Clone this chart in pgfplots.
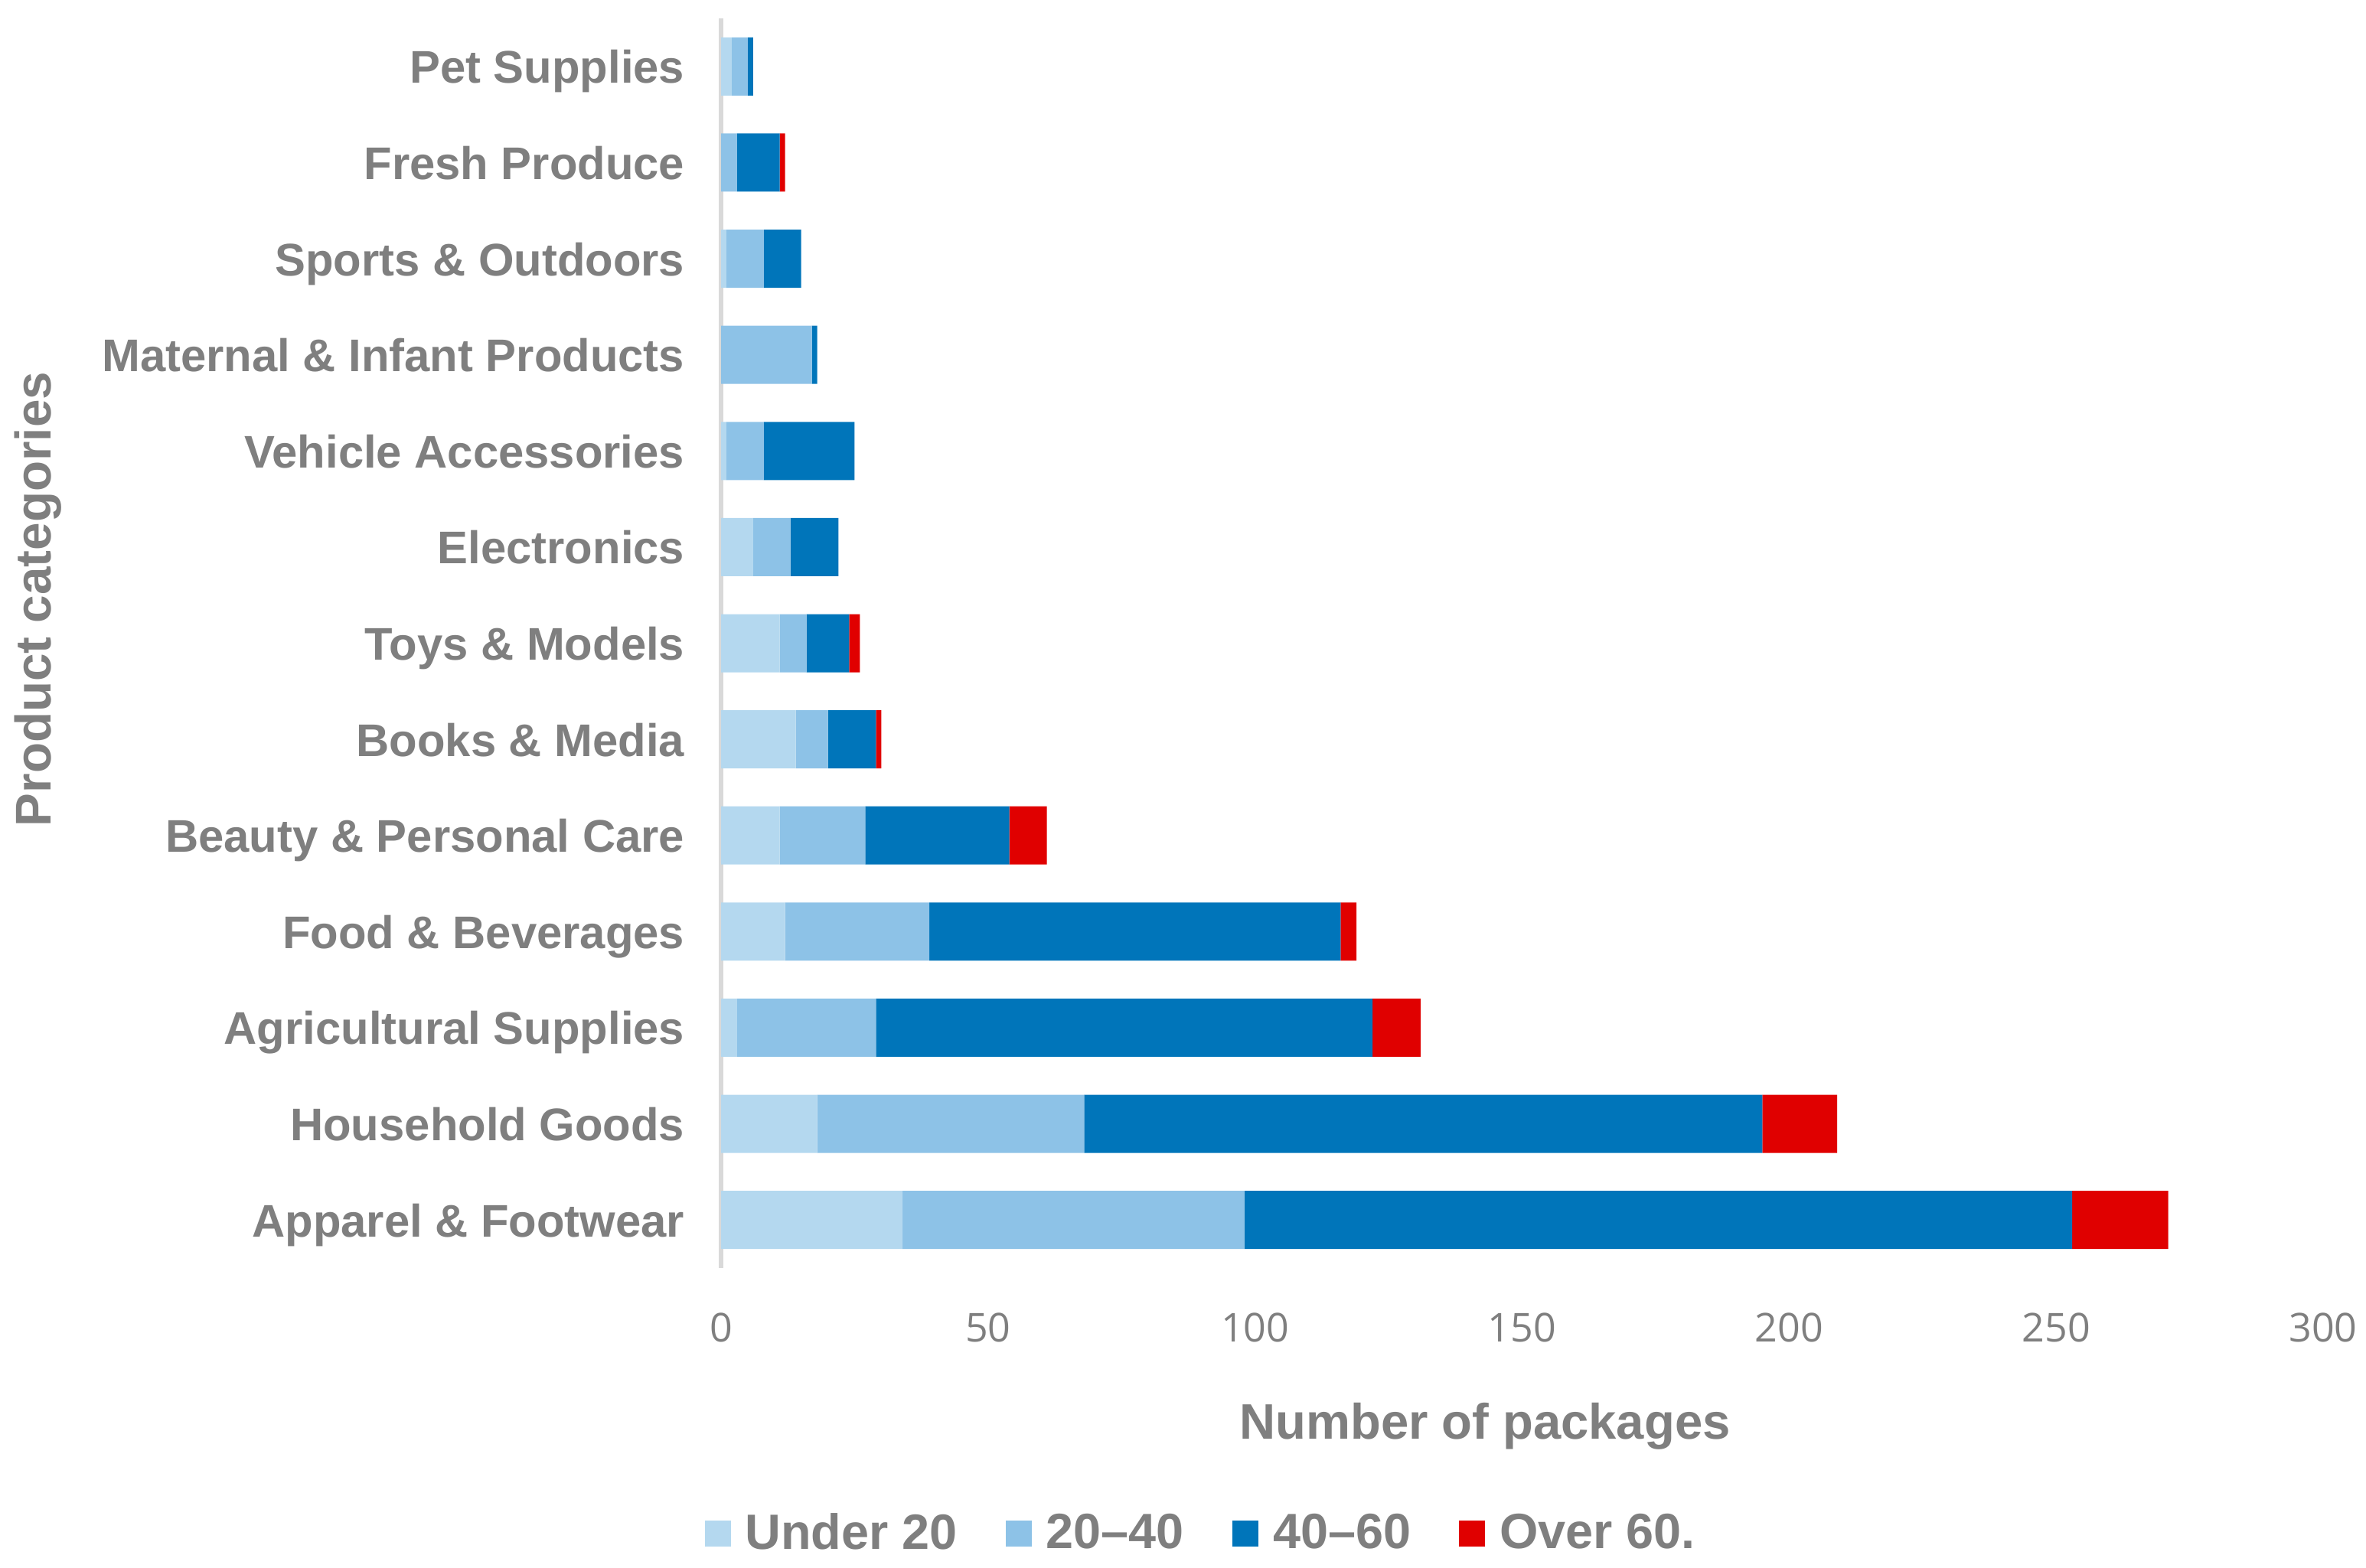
\documentclass[border=0pt]{standalone}
\usepackage{fontspec}
\setmainfont{Liberation Sans}
\newfontfamily\tickfont{Open Sans}
\usepackage{pgfplots}
\pgfplotsset{compat=1.18}
\definecolor{cA}{RGB}{180,216,239}
\definecolor{cB}{RGB}{141,194,231}
\definecolor{cC}{RGB}{0,117,186}
\definecolor{cD}{RGB}{224,0,0}
\definecolor{txt}{RGB}{127,127,127}
\definecolor{axl}{RGB}{217,217,217}
\begin{document}
\begin{tikzpicture}
\path[use as bounding box] (0,0) rectangle (772.75pt,512pt);
\begin{axis}[
  at={(235.5pt,97.75pt)}, anchor=south west,
  scale only axis, width=523.25pt, height=408.25pt,
  xbar stacked, bar width=19pt,
  xmin=0, xmax=300, ymin=-0.5, ymax=12.5,
  ytick={0,...,12},
  yticklabels={Apparel \& Footwear, Household Goods, Agricultural Supplies, Food \& Beverages, Beauty \& Personal Care, Books \& Media, Toys \& Models, Electronics, Vehicle Accessories, Maternal \& Infant Products, Sports \& Outdoors, Fresh Produce, Pet Supplies},
  xtick={0,50,100,150,200,250,300},
  xticklabels={0,50,100,150,200,250,300},
  axis x line*=bottom, axis y line*=left,
  x axis line style={draw=none},
  y axis line style={draw=axl, line width=1.5pt, -},
  major tick length=0pt, tick style={draw=none},
  yticklabel style={font=\fontsize{14.95}{16}\selectfont\bfseries, text=txt, anchor=base east, inner sep=0pt, xshift=-11.75pt, yshift=-5.5pt},
  xticklabel style={font=\tickfont\fontsize{13}{15}\selectfont, text=txt, anchor=north, inner sep=0pt, yshift=-14.5pt},
  xlabel={Number of packages},
  xlabel style={at={(axis description cs:0.4768,-0.1366)}, anchor=base, font=\fontsize{16.3}{18}\selectfont\bfseries, text=txt},
  ylabel={Product categories},
  ylabel style={at={(axis description cs:-0.4262,0.5352)}, anchor=center, font=\fontsize{16.4}{18}\selectfont\bfseries, text=txt},
  legend columns=4,
  legend image code/.code={\fill[#1] (0pt,-4.25pt) rectangle (8.5pt,4.25pt);},
  legend style={at={(axis description cs:0.299,-0.2125)}, anchor=center, draw=none, fill=none,
    font=\fontsize{16.2}{18}\selectfont\bfseries, text=txt, inner sep=0pt,
    nodes={inner sep=0pt},
    /tikz/every odd column/.append style={column sep=4.75pt},
    /tikz/every even column/.append style={column sep=15.75pt}},
  legend cell align=left,
]
\addplot[fill=cA, draw=none] coordinates {(34,0) (18,1) (3,2) (12,3) (11,4) (14,5) (11,6) (6,7) (1,8) (0,9) (1,10) (0,11) (2,12)};
\addplot[fill=cB, draw=none] coordinates {(64,0) (50,1) (26,2) (27,3) (16,4) (6,5) (5,6) (7,7) (7,8) (17,9) (7,10) (3,11) (3,12)};
\addplot[fill=cC, draw=none] coordinates {(155,0) (127,1) (93,2) (77,3) (27,4) (9,5) (8,6) (9,7) (17,8) (1,9) (7,10) (8,11) (1,12)};
\addplot[fill=cD, draw=none] coordinates {(18,0) (14,1) (9,2) (3,3) (7,4) (1,5) (2,6) (0,7) (0,8) (0,9) (0,10) (1,11) (0,12)};
\legend{Under 20, 20–40, 40–60, Over 60.}
\end{axis}
\end{tikzpicture}
\end{document}
